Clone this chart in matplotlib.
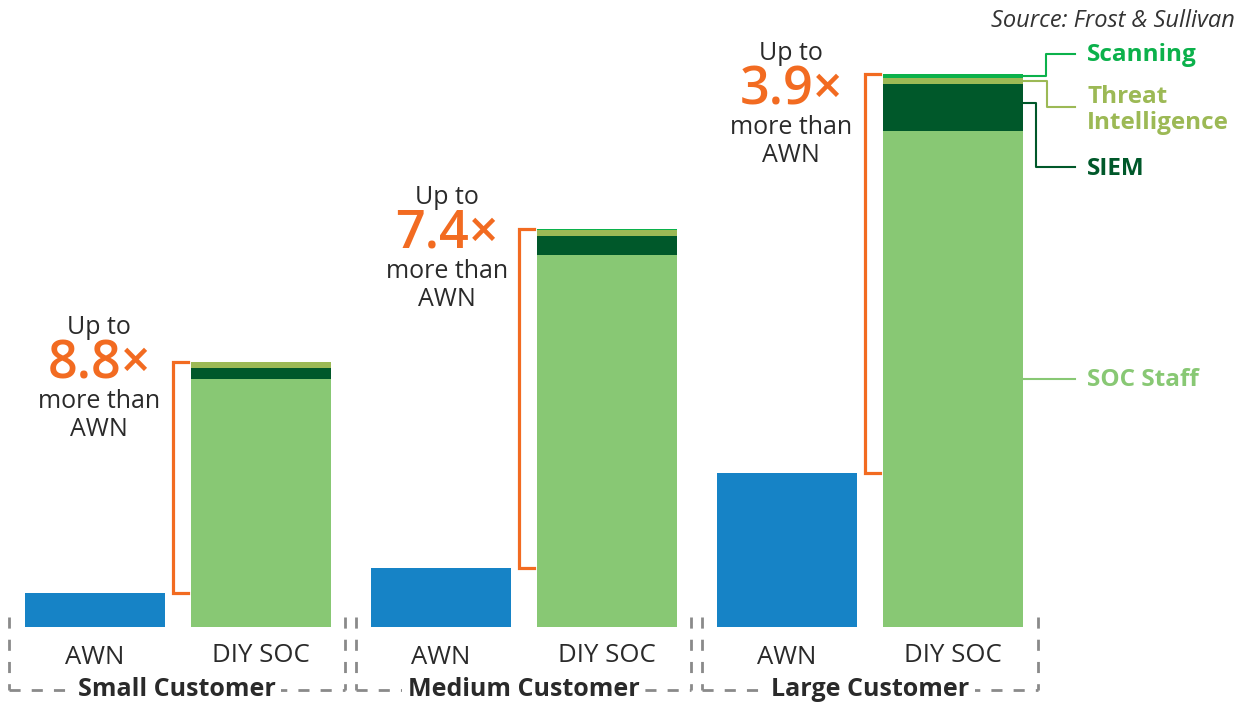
import matplotlib
matplotlib.use("Agg")
import matplotlib.pyplot as plt

# ---- data (arbitrary cost units) ----
groups = ["Small Customer", "Medium Customer", "Large Customer"]
bar_labels = ["AWN", "DIY SOC"]
awn = [34, 59, 154]
soc_staff = [248, 372, 496]
siem = [11, 19, 47]
threat_intel = [6, 6, 6]
scanning = [0, 1, 4]
multipliers = ["8.8×", "7.4×", "3.9×"]
layer_names = ["SOC Staff", "SIEM", "Threat\nIntelligence", "Scanning"]

C_AWN = "#1683C6"
C_SOC = "#88C874"
C_SIEM = "#00582A"
C_TI = "#9CB955"
C_SCAN = "#0BB14B"
C_OR = "#F26B21"
C_TXT = "#2a2a2a"
FONT = ["Open Sans", "DejaVu Sans"]

W, H = 1247, 702
BASE = 627  # baseline pixel row
fig = plt.figure(figsize=(W / 100, H / 100), dpi=100)
ax = fig.add_axes([0, 0, 1, 1])
ax.set_xlim(0, W)
ax.set_ylim(-(H - BASE), BASE)
ax.axis("off")

def py(p):
    return BASE - p

bw = 140
x_awn = [95 + 346 * g for g in range(3)]
x_diy = [261 + 346 * g for g in range(3)]

ax.bar(x_awn, awn, width=bw, color=C_AWN)
ax.bar(x_diy, soc_staff, width=bw, color=C_SOC)
b2 = [a + b for a, b in zip(soc_staff, siem)]
ax.bar(x_diy, siem, width=bw, bottom=soc_staff, color=C_SIEM)
b3 = [a + b for a, b in zip(b2, threat_intel)]
ax.bar(x_diy, threat_intel, width=bw, bottom=b2, color=C_TI)
totals = [a + b for a, b in zip(b3, scanning)]
ax.bar(x_diy, scanning, width=bw, bottom=b3, color=C_SCAN)

# category labels
for g in range(3):
    ax.text(x_awn[g], py(657), bar_labels[0], ha="center", va="center",
            fontsize=18.5, color=C_TXT, family=FONT)
    ax.text(x_diy[g], py(655), bar_labels[1], ha="center", va="center",
            fontsize=18.5, color=C_TXT, family=FONT)

# dashed group brackets
gx = [(9, 345), (356, 691), (702, 1038)]
for g, (l, r) in enumerate(gx):
    dk = dict(color="#8a8a8a", lw=2, ls=(0, (4, 4)))
    ax.plot([l, l], [py(617), py(690)], **dk)
    ax.plot([r, r], [py(617), py(690)], **dk)
    ax.plot([l, r], [py(690), py(690)], **dk)
    cx = (l + r) / 2
    ax.text(cx, py(689), groups[g], ha="center", va="center", fontsize=18,
            fontweight="bold", color=C_TXT, family=FONT,
            bbox=dict(facecolor="white", edgecolor="none", pad=4))

# orange brackets + multiplier text
text_pos = [(99, 328), (447, 197), (791, 54)]
for g in range(3):
    xl = x_diy[g] - bw / 2 - 18
    xr = x_diy[g] - bw / 2 - 3
    ax.plot([xr, xl, xl, xr], [totals[g], totals[g], awn[g], awn[g]],
            color=C_OR, lw=2.3, solid_joinstyle="miter")
    tx, ty = text_pos[g]
    ax.text(tx, py(ty), "Up to", ha="center", va="center", fontsize=18,
            color=C_TXT, family=FONT)
    ax.text(tx, py(ty + 37), multipliers[g], ha="center", va="center",
            fontsize=37.5, fontweight="semibold", color=C_OR, family=FONT)
    ax.text(tx, py(ty + 74), "more than", ha="center", va="center",
            fontsize=18, color=C_TXT, family=FONT)
    ax.text(tx, py(ty + 102), "AWN", ha="center", va="center",
            fontsize=18, color=C_TXT, family=FONT)

# legend with leader lines on the large stack
xr = x_diy[2] + bw / 2
L = 1087
scan_mid = b3[2] + scanning[2] / 2
ti_mid = b2[2] + threat_intel[2] / 2
siem_mid = soc_staff[2] + siem[2] * 0.6
soc_mid = soc_staff[2] / 2
ax.plot([xr, 1046, 1046, 1075], [scan_mid, scan_mid, py(54), py(54)], color=C_SCAN, lw=1.5)
ax.plot([xr, 1047, 1047, 1075], [ti_mid, ti_mid, py(107), py(107)], color=C_TI, lw=1.5)
ax.plot([xr, 1036, 1036, 1075], [siem_mid, siem_mid, py(167), py(167)], color=C_SIEM, lw=1.5)
ax.plot([xr, 1075], [soc_mid, soc_mid], color=C_SOC, lw=1.5)
ax.text(L, py(55), layer_names[3], ha="left", va="center", fontsize=17.5,
        fontweight="bold", color=C_SCAN, family=FONT)
ax.text(L, py(110), layer_names[2], ha="left", va="center", fontsize=17.5,
        fontweight="bold", color=C_TI, family=FONT, linespacing=1.15)
ax.text(L, py(169), layer_names[1], ha="left", va="center", fontsize=17.5,
        fontweight="bold", color=C_SIEM, family=FONT)
ax.text(L, soc_mid - 1, layer_names[0], ha="left", va="center", fontsize=17.5,
        fontweight="bold", color=C_SOC, family=FONT)

ax.text(1235, py(21), "Source: Frost & Sullivan", ha="right", va="center",
        fontsize=17, style="italic", color="#333333", family=FONT)

fig.savefig("out.png", dpi=100)
